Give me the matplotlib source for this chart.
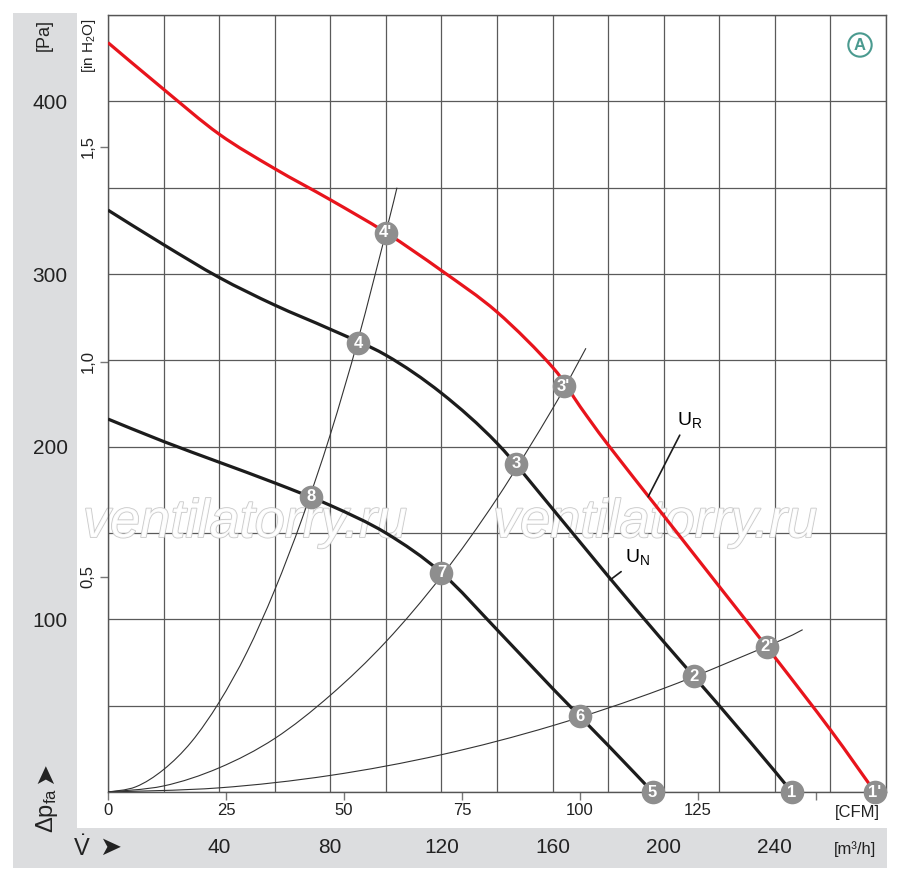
import numpy as np
import matplotlib
matplotlib.use("Agg")
import matplotlib.pyplot as plt
from matplotlib.patches import Rectangle, PathPatch
from matplotlib.path import Path
from matplotlib import patheffects

plt.rcParams["font.family"] = ["Liberation Sans", "DejaVu Sans"]
plt.rcParams["mathtext.fontset"] = "custom"
plt.rcParams["mathtext.rm"] = "Liberation Sans"
plt.rcParams["mathtext.it"] = "Liberation Sans:italic"

# fan curves: flow in m3/h, pressure in Pa
flow_ur = [0, 20, 40, 60, 80, 100, 120, 140, 160, 170, 180, 200, 220, 240, 260, 276]
dp_ur = [434, 407, 381, 361, 343, 324, 302, 278, 246, 223, 201, 160, 119, 78, 36, 0]

flow_un = [0, 20, 40, 60, 80, 100, 120, 140, 160, 180, 200, 220, 240, 246]
dp_un = [337, 317, 298, 282, 268, 253, 231, 202, 164, 125, 87, 50, 12, 0]

flow_low = [0, 20, 40, 60, 80, 100, 120, 140, 160, 180, 196]
dp_low = [216, 203, 191, 179, 166, 150, 127, 94, 60, 27, 0]

# system resistance curves
flow_sys_a = [0, 10, 20, 30, 40, 50, 60, 70, 80, 90, 100, 104]
dp_sys_a = [0, 3, 13, 29, 52, 81, 117, 159, 207, 262, 324, 350]
flow_sys_b = [0, 20, 40, 60, 80, 100, 120, 140, 160, 172]
dp_sys_b = [0, 3.5, 14, 31, 56, 87, 125, 170, 222, 257]
flow_sys_c = [0, 40, 80, 120, 160, 200, 240, 250]
dp_sys_c = [0, 2.4, 9.6, 21.6, 38.4, 60, 86.4, 94]

# operating points
point_labels = ["1", "2", "3", "4", "1'", "2'", "3'", "4'", "5", "6", "7", "8"]
point_flow = [246, 211, 147, 90, 276, 237, 164, 100, 196, 170, 120, 73]
point_dp = [0, 67, 190, 260, 0, 84, 235, 324, 0, 44, 127, 171]

# axis ticks
m3h_grid = list(range(0, 281, 20))
m3h_labels = ["" if v % 40 or v in (0, 280) else str(v) for v in m3h_grid]
pa_grid = list(range(0, 451, 50))
pa_labels = [str(v) if v % 100 == 0 and v > 0 else "" for v in pa_grid]
cfm_ticks = [0, 25, 50, 75, 100, 125, 150]
cfm_labels = ["0", "25", "50", "75", "100", "125", ""]
inh2o_ticks = [0.5, 1.0, 1.5]
inh2o_labels = ["0,5", "1,0", "1,5"]

M3H_PER_CFM = 1.699
PA_PER_INH2O = 249.089

RED = "#e8141c"
DARK = "#1c1c1c"
PANEL = "#dcdddf"
GRID = "#5a5a5a"
DOT = "#8e8e8e"

W, H = 900, 888


def fx(px):
    return px / W


def fy(py):
    return 1 - py / H


def smooth_path(xs, ys):
    # Catmull-Rom through the read points, drawn as cubic bezier segments
    pts = np.column_stack([xs, ys]).astype(float)
    p = np.vstack([pts[0], pts, pts[-1]])
    verts = [pts[0]]
    codes = [Path.MOVETO]
    for i in range(1, len(p) - 2):
        p0, p1, p2, p3 = p[i - 1], p[i], p[i + 1], p[i + 2]
        verts += [p1 + (p2 - p0) / 6, p2 - (p3 - p1) / 6, p2]
        codes += [Path.CURVE4] * 3
    return Path(verts, codes)


def draw_curve(ax, xs, ys, color, lw, zorder):
    ax.add_patch(PathPatch(smooth_path(xs, ys), fc="none", ec=color, lw=lw,
                           capstyle="butt", joinstyle="round", zorder=zorder))


fig = plt.figure(figsize=(W / 100, H / 100), dpi=100)

# gray L-shaped panels behind the axis labels
fig.patches.append(Rectangle((fx(13), fy(868)), 64 / W, 855 / H, transform=fig.transFigure,
                             fc=PANEL, ec="none", zorder=-1))
fig.patches.append(Rectangle((fx(13), fy(868)), 874 / W, 40 / H, transform=fig.transFigure,
                             fc=PANEL, ec="none", zorder=-1))

ax = fig.add_axes([fx(108), fy(792), 778 / W, 777 / H])
ax.set_xlim(0, 280)
ax.set_ylim(0, 450)

ax.set_xticks(m3h_grid, labels=m3h_labels)
ax.set_yticks(pa_grid, labels=pa_labels)
ax.tick_params(axis="x", length=0, pad=33, labelsize=15, labelcolor="#222")
ax.tick_params(axis="y", length=0, pad=29, labelsize=15, labelcolor="#222")
ax.grid(True, color=GRID, lw=0.9)
ax.set_axisbelow(True)
for s in ax.spines.values():
    s.set_color("#555")
    s.set_linewidth(1.0)

cfm = ax.secondary_xaxis("bottom", functions=(lambda v: v / M3H_PER_CFM, lambda v: v * M3H_PER_CFM))
cfm.set_xticks(cfm_ticks, labels=cfm_labels)
cfm.tick_params(length=6, width=1, color="#777", pad=2, labelsize=12, labelcolor="#222")
cfm.spines["bottom"].set_visible(False)

inw = ax.secondary_yaxis("left", functions=(lambda v: v / PA_PER_INH2O, lambda v: v * PA_PER_INH2O))
inw.set_yticks(inh2o_ticks, labels=inh2o_labels)
inw.tick_params(length=6, width=1, color="#777", pad=3, labelsize=12, labelcolor="#222")
inw.spines["left"].set_visible(False)
for lbl in inw.get_yticklabels():
    lbl.set_rotation(90)
    lbl.set_va("center")

# watermark
for xa in (0.176, 0.703):
    ax.text(xa, 0.346, "ventilatorry.ru", transform=ax.transAxes, ha="center", va="center",
            fontsize=39, style="italic", color="white", alpha=0.9, zorder=2,
            path_effects=[patheffects.withStroke(linewidth=1.2, foreground="#c4c4c4")])

# system curves
for fl, dp in ((flow_sys_a, dp_sys_a), (flow_sys_b, dp_sys_b), (flow_sys_c, dp_sys_c)):
    draw_curve(ax, fl, dp, "#333", 0.8, 3)

draw_curve(ax, flow_low, dp_low, DARK, 2.3, 4)
draw_curve(ax, flow_un, dp_un, DARK, 2.3, 4)
draw_curve(ax, flow_ur, dp_ur, RED, 2.3, 4)

ax.plot(point_flow, point_dp, "o", ms=17, mfc=DOT, mec="none", clip_on=False, zorder=6)
for lbl, x, y in zip(point_labels, point_flow, point_dp):
    ax.text(x, y, lbl, color="white", fontsize=12, fontweight="bold", ha="center",
            va="center", zorder=7, clip_on=False)

# curve labels with leader lines
ax.annotate(r"U$_\mathregular{R}$", xy=(194.4, 171), xytext=(209.5, 215.5), fontsize=14,
            ha="center", va="center", zorder=5,
            arrowprops=dict(arrowstyle="-", lw=1.2, color=DARK, shrinkA=2, shrinkB=0,
                            relpos=(0.2, 0.0)))
ax.annotate(r"U$_\mathregular{N}$", xy=(180.7, 122.8), xytext=(190.4, 136), fontsize=14,
            ha="center", va="center", zorder=5,
            arrowprops=dict(arrowstyle="-", lw=1.2, color=DARK, shrinkA=2, shrinkB=0,
                            relpos=(0.1, 0.0)))

# axis captions
fig.text(fx(44), fy(35), "[Pa]", rotation=90, ha="center", va="center", fontsize=13, color="#222")
fig.text(fx(89), fy(46), "[in H$_2$O]", rotation=90, ha="center", va="center", fontsize=11, color="#222")
fig.text(fx(47), fy(810), r"$\Delta$p$_\mathregular{fa}$", rotation=90, ha="center", va="center",
         fontsize=17, color="#222")
fig.text(fx(45), fy(773), "\u27a4", rotation=90, ha="center", va="center", fontsize=19,
         color="#222", family="DejaVu Sans")
fig.text(fx(82), fy(848), r"$\dot{\mathregular{V}}$", ha="center", va="center", fontsize=17, color="#222")
fig.text(fx(110), fy(848), "\u27a4", ha="center", va="center", fontsize=19, color="#222",
         family="DejaVu Sans")
fig.text(fx(855), fy(849), "[m\u00b3/h]", ha="center", va="center", fontsize=12, color="#222")
fig.text(fx(857), fy(812), "[CFM]", ha="center", va="center", fontsize=12, color="#222")

fig.text(fx(860), fy(45), "A", ha="center", va="center", fontsize=12, fontweight="bold",
         color="#4a9a8f",
         bbox=dict(boxstyle="circle,pad=0.25", fc="white", ec="#4a9a8f", lw=1.5))

fig.savefig("out.png", dpi=100)
